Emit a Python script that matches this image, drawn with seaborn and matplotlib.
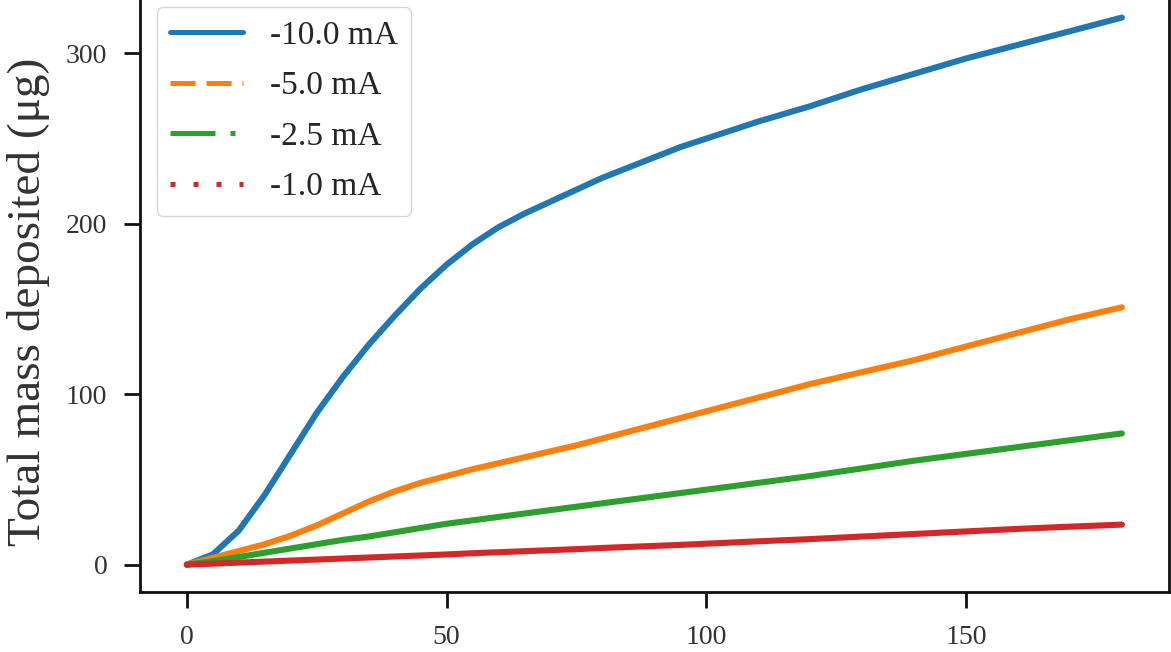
import pandas as pd
import matplotlib
matplotlib.use("Agg")
import matplotlib.pyplot as plt
import seaborn as sns

# time (s) and total mass deposited (ug)
time = [0, 5, 10, 15, 20, 25, 30, 35, 40, 45, 50, 55, 60, 65, 70, 75, 80, 85, 90, 95, 100,
        110, 120, 130, 140, 150, 160, 170, 180]
mass_10ma = [0, 6, 20, 41, 65, 89, 110, 129, 146, 162, 176, 188, 198, 206, 213, 220, 227,
             233, 239, 245, 250, 260, 269, 279, 288, 297, 305, 313, 321]
mass_5ma = [0, 4, 8, 12, 17, 23, 30, 37, 43, 48, 52, 56, 59.5, 63, 66.5, 70, 74, 78, 82,
            86, 90, 98, 106, 113, 120, 128, 136, 144, 151]
mass_2_5ma = [0, 2, 4.5, 7, 9.5, 12, 14.5, 16.5, 19, 21.5, 24, 26, 28, 30, 32, 34, 36, 38,
              40, 42, 44, 48, 52, 56.5, 61, 65, 69, 73, 77]
mass_1ma = [0, 0.6, 1.2, 1.8, 2.4, 3, 3.6, 4.2, 4.8, 5.4, 6, 6.7, 7.3, 7.9, 8.5, 9.1, 9.8,
            10.4, 11, 11.6, 12.3, 13.7, 15, 16.5, 18, 19.5, 21, 22.3, 23.5]

currents = ["-10.0 mA", "-5.0 mA", "-2.5 mA", "-1.0 mA"]
series = [mass_10ma, mass_5ma, mass_2_5ma, mass_1ma]

rows = []
for cur, vals in zip(currents, series):
    for t, m in zip(time, vals):
        rows.append({"time": t, "mass": m, "current": cur})
df = pd.DataFrame(rows)

sns.set_theme(style="ticks")
plt.rcParams["font.family"] = ["Liberation Serif", "DejaVu Serif"]

fig = plt.figure(figsize=(11.71, 6.52), dpi=100)
ax = fig.add_axes([0.1196, 0.092, 0.8784, 0.923])

colors = ["#1f77b4", "#ff7f0e", "#2ca02c", "#d62728"]
dashes = {"-10.0 mA": "", "-5.0 mA": (5, 2.2), "-2.5 mA": (9, 3, 1, 3), "-1.0 mA": (1, 3.6)}

sns.lineplot(data=df, x="time", y="mass", hue="current", style="current",
             hue_order=currents, style_order=currents, palette=colors,
             dashes=dashes, linewidth=3.6, ax=ax)

# noisy raw data makes the dashes look solid in the plot, only legend shows them
for line in ax.lines:
    line.set_linestyle("-")
    line.set_linewidth(4.4)
    line.set_solid_joinstyle("round")
    line.set_solid_capstyle("round")

old = ax.get_legend()
handles = old.legend_handles
labels = [t.get_text() for t in old.texts]
for h in handles:
    h.set_linewidth(3.6)
ax.legend(handles=handles, labels=labels, loc="upper left", fontsize=24,
          frameon=True, edgecolor="0.8", handlelength=2.2, labelspacing=0.6,
          borderaxespad=0.5, handletextpad=0.8)

ax.set_xticks([0, 50, 100, 150])
ax.set_yticks([0, 100, 200, 300])
ax.set_xlabel("")
ax.set_ylabel("Total mass deposited (μg)", fontsize=34, color="#333333")
ax.yaxis.set_label_coords(-0.088, 0.482)

ax.tick_params(axis="both", direction="out", length=11.5, width=2, pad=12,
               labelsize=20, labelcolor="#333333", color="#111111")
for s in ax.spines.values():
    s.set_linewidth(2)
    s.set_color("#111111")

fig.savefig("out.png", dpi=100)
